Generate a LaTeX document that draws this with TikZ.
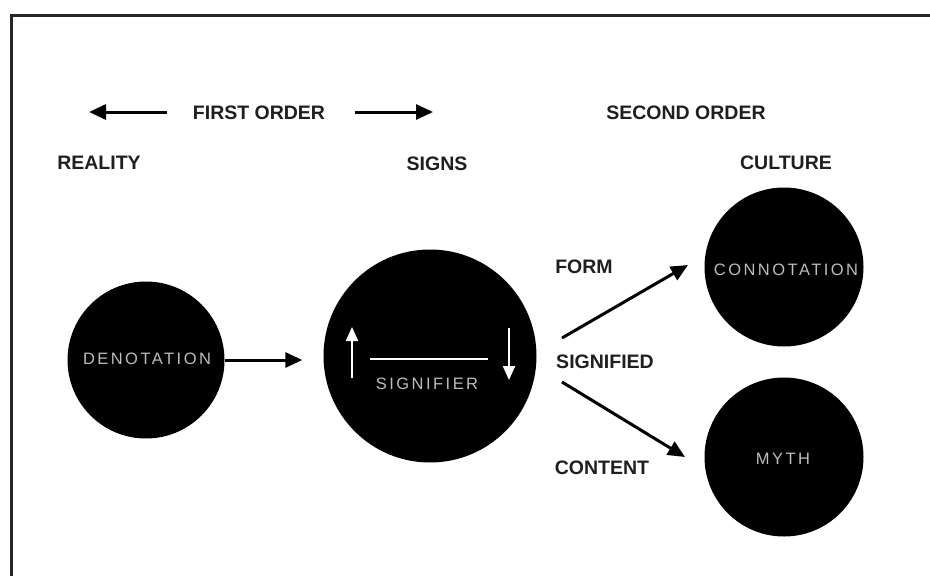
\documentclass[tikz,border=0pt]{standalone}
\usepackage{fontspec}
\setmainfont{Liberation Sans}
\newfontfamily\circfont[LetterSpace=15]{Liberation Sans}
\usetikzlibrary{arrows.meta}
\definecolor{circtext}{HTML}{BDBDBD}
\tikzset{
  lbl/.style={font=\bfseries\fontsize{19.5}{22}\selectfont, text=black!88, inner sep=0pt},
  blob/.style={circle, fill=black, draw=none, inner sep=0pt},
  ctext/.style={font=\circfont\fontsize{16.5}{18}\selectfont, text=circtext, inner sep=0pt},
  conn/.style={line width=3pt, black, -{Triangle[length=17pt,width=15pt]}},
  inner/.style={line width=2.2pt, white},
  innerarr/.style={line width=2.2pt, white, -{Triangle[length=14pt,width=12pt]}},
}
\begin{document}
\begin{tikzpicture}[x=1pt,y=-1pt]
\useasboundingbox (0,0) rectangle (930,576);
\fill[white] (0,0) rectangle (930,576);
\clip (0,0) rectangle (930,576);
\draw[line width=3pt, black!85] (11,15) rectangle (945,590);

% header labels
\node[lbl] (first) at (259,113) {FIRST ORDER};
\node[lbl] (second) at (686,113) {SECOND ORDER};
\node[lbl] (reality) at (99,163) {REALITY};
\node[lbl] (signs) at (437,164) {SIGNS};
\node[lbl] (culture) at (786,163) {CULTURE};

\coordinate (la) at (167,112);
\coordinate (lb) at (89,112);
\coordinate (ra) at (355,112);
\coordinate (rb) at (433,112);
\draw[conn] (la) -- (lb);
\draw[conn] (ra) -- (rb);

% circles
\node[blob, minimum size=157pt] (den) at (146,360) {};
\node[ctext] (dentext) at (147,359) {DENOTATION};
\node[blob, minimum size=213pt] (sig) at (430,356) {};
\node[blob, minimum size=159pt] (con) at (784,267) {};
\node[ctext] (context) at (786,270) {CONNOTATION};
\node[blob, minimum size=159pt] (myth) at (784,457) {};
\node[ctext] (mythtext) at (783,459) {MYTH};

% signifier interior
\node[ctext] (sigtext) at (427,384) {SIGNIFIER};
\coordinate (hl) at (370,359);
\coordinate (hr) at (488,359);
\draw[inner] (hl) -- (hr);
\coordinate (ua) at (352,378);
\coordinate (ub) at (352,327);
\draw[innerarr] (ua) -- (ub);
\coordinate (da) at (509,328);
\coordinate (db) at (509,380);
\draw[innerarr] (da) -- (db);

% signified labels
\node[lbl] (form) at (584,267) {FORM};
\node[lbl] (signified) at (605,362) {SIGNIFIED};
\node[lbl] (content) at (602,468) {CONTENT};

% connectors
\draw[conn, shorten >=21pt] (den.east) -- (sig.west |- den.east);
\coordinate (ua1) at (562,338);
\coordinate (ub1) at (688,265);
\draw[conn] (ua1) -- (ub1);
\coordinate (da1) at (562,382);
\coordinate (db1) at (685,457);
\draw[conn] (da1) -- (db1);
\end{tikzpicture}
\end{document}
